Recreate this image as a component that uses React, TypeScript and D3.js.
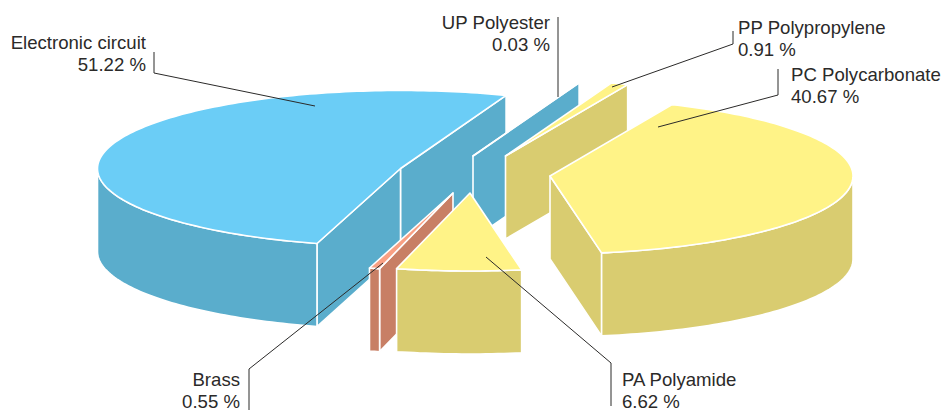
import React from 'react'
import * as d3 from 'd3'

const categories = ['Electronic circuit', 'UP Polyester', 'PP Polypropylene', 'PC Polycarbonate', 'PA Polyamide', 'Brass']
const shares = [51.22, 0.03, 0.91, 40.67, 6.62, 0.55]

// slice colours: top, side
const topColors = ['#6bcdf6', '#6bcdf6', '#fff387', '#fff387', '#fff387', '#f9a083']
const sideColors = ['#5aadcc', '#5aadcc', '#d9cc70', '#d9cc70', '#d9cc70', '#c87f65']

// where the tip of each exploded slice ended up
const tips: [number, number][] = [[400.5, 168.5], [473, 156], [505.5, 156], [550, 176], [470, 193], [453, 193]]

// back to front
const drawOrder = [0, 1, 2, 3, 5, 4]

const rx = 303
const ry = 78
const depth = 83
const startDeg = 196

type Label = { x: number; y: number; anchor: string }
const labelPos: Label[] = [
  { x: 146, y: 49, anchor: 'end' },
  { x: 550, y: 29, anchor: 'end' },
  { x: 738, y: 34, anchor: 'start' },
  { x: 791, y: 81, anchor: 'start' },
  { x: 622, y: 386, anchor: 'start' },
  { x: 240, y: 386, anchor: 'end' },
]
const lineGap = 22

const leaders: [number, number][][] = [
  [[154, 52], [154, 73], [315, 106]],
  [[558, 17], [558, 97]],
  [[733, 31], [733, 44], [612, 87]],
  [[778, 69], [778, 95], [658, 127]],
  [[486, 257], [611, 363], [611, 406]],
  [[383, 263], [249, 369], [249, 410]],
]

const TAU = Math.PI * 2
const rad = d3.scaleLinear().domain([0, 360]).range([0, TAU])

const pie = d3.pie<number>().sort(null).startAngle(rad(startDeg)).endAngle(rad(startDeg + 360))
const slices = pie(shares)

const line = d3.line()
const leaderLine = d3.line()

// point on the ellipse, angle clockwise from the top
const onRim = (tip: [number, number], a: number, dy = 0): [number, number] => [
  tip[0] + rx * Math.sin(a),
  tip[1] - ry * Math.cos(a) + dy,
]

const rimPoints = (tip: [number, number], a0: number, a1: number, dy = 0) => {
  const n = Math.max(2, Math.ceil((a1 - a0) / 0.02))
  return d3.range(n + 1).map((i) => onRim(tip, a0 + ((a1 - a0) * i) / n, dy))
}

const Slice = ({ i }: { i: number }) => {
  const s = slices[i]
  const tip = tips[i]
  const a0 = s.startAngle % TAU
  const a1 = a0 + (s.endAngle - s.startAngle)
  const stroke = { stroke: '#fff', strokeWidth: 1.6, strokeLinejoin: 'round' as const }

  const face = (a: number) => {
    const p = onRim(tip, a)
    return line([tip, p, [p[0], p[1] + depth], [tip[0], tip[1] + depth]]) + 'Z'
  }

  const lo = Math.max(a0, Math.PI / 2)
  const hi = Math.min(a1, (Math.PI * 3) / 2)

  return (
    <g>
      {Math.sin(a1) > 0 && <path d={face(a1)} fill={sideColors[i]} {...stroke} />}
      {Math.sin(a0) < 0 && <path d={face(a0)} fill={sideColors[i]} {...stroke} />}
      {lo < hi && (
        <path
          d={line([...rimPoints(tip, lo, hi), ...rimPoints(tip, lo, hi, depth).reverse()]) + 'Z'}
          fill={sideColors[i]}
          {...stroke}
        />
      )}
      <path d={line([tip, ...rimPoints(tip, a0, a1)]) + 'Z'} fill={topColors[i]} {...stroke} />
    </g>
  )
}

const App = () => {
  return (
    <svg
      width={943}
      height={410}
      style={{ position: 'absolute', left: 0, top: 0, background: '#fff' }}
      fontFamily="'Liberation Sans', Arial, sans-serif"
    >
      {drawOrder.map((i) => (
        <Slice key={categories[i]} i={i} />
      ))}
      {leaders.map((pts, i) => (
        <path key={i} d={leaderLine(pts) as string} fill="none" stroke="#2b2a29" strokeWidth={1} />
      ))}
      {categories.map((c, i) => (
        <text key={c} x={labelPos[i].x} y={labelPos[i].y} textAnchor={labelPos[i].anchor} fontSize={18.6} fill="#2b2a29">
          <tspan x={labelPos[i].x}>{c}</tspan>
          <tspan x={labelPos[i].x} dy={lineGap}>{shares[i].toFixed(2)} %</tspan>
        </text>
      ))}
    </svg>
  )
}

export default App
